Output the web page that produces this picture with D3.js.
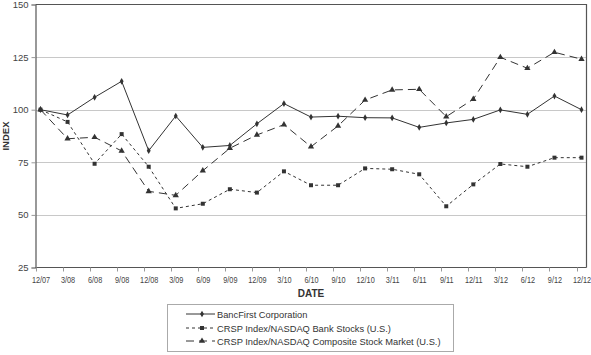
<!DOCTYPE html>
<html><head><meta charset="utf-8">
<script src="https://cdn.jsdelivr.net/npm/d3@7"></script>
<style>body{margin:0;background:#fff}svg{display:block;font-family:Arial,"Liberation Sans",sans-serif}</style>
</head><body><svg id="c" width="591" height="355"></svg>
<script>
const dates = ["12/07","3/08","6/08","9/08","12/08","3/09","6/09","9/09","12/09","3/10","6/10","9/10","12/10","3/11","6/11","9/11","12/11","3/12","6/12","9/12","12/12"];
const bancFirst = [100,97.5,105.9,113.5,80.5,97,82.1,83,93.3,102.9,96.5,96.9,96.2,96.1,91.6,93.7,95.4,99.9,97.8,106.5,100];
const bankStocks = [100,94.2,74.3,88.4,72.9,53.1,55.3,62.2,60.6,70.7,64.1,64.1,72.1,71.7,69.3,54.1,64.5,74.2,72.9,77.2,77.2];
const composite = [100,86.2,86.9,80.4,61.2,59.3,71.0,81.7,88.0,92.9,82.4,92.3,104.6,109.4,109.7,96.7,105,124.9,119.7,127.3,124];
const yTicks = [25,50,75,100,125,150];
const seriesNames = ["BancFirst Corporation","CRSP Index/NASDAQ Bank Stocks (U.S.)","CRSP Index/NASDAQ Composite Stock Market (U.S.)"];

const svg = d3.select("#c");
const L=35.5, R=586.5, T=4.5, B=267.5;
const x = d3.scalePoint().domain(dates).range([40.5,581.5]);
const y = d3.scaleLinear().domain([25,150]).range([B,T]);

// gridlines
svg.append("g").selectAll("line").data(yTicks.filter(d=>d>25&&d<150)).join("line")
  .attr("x1",L).attr("x2",R).attr("y1",d=>Math.round(y(d))+0.5).attr("y2",d=>Math.round(y(d))+0.5)
  .attr("stroke","#c8c8c8").attr("stroke-width",1);

// frame
svg.append("path").attr("d",`M${L},${T}H${R}V${B}`).attr("fill","none").attr("stroke","#555").attr("stroke-width",1.2);

// y axis
const ya = svg.append("g").attr("transform",`translate(${L},0)`)
  .call(d3.axisLeft(y).tickValues(yTicks).tickSize(4).tickPadding(3));
ya.select(".domain").attr("stroke","#555").attr("stroke-width",1.2);
ya.selectAll(".tick line").attr("stroke","#999");
ya.selectAll("text").attr("font-size",9.5).attr("fill","#444").attr("font-family","Arial,'Liberation Sans',sans-serif");

// x axis
const xa = svg.append("g").attr("transform",`translate(0,${B})`)
  .call(d3.axisBottom(x).tickSize(0).tickPadding(9));
xa.select(".domain").attr("d",`M${L},0H${R}`).attr("stroke","#555").attr("stroke-width",1.2);
xa.selectAll("text").attr("font-size",8.5).attr("fill","#444").attr("transform","scale(0.86,1)")
  .attr("font-family","Arial,'Liberation Sans',sans-serif");
// tick marks between categories
svg.append("g").selectAll("line").data(dates).join("line")
  .attr("x1",d=>Math.round(x(d)-5)+0.5).attr("x2",d=>Math.round(x(d)-5)+0.5)
  .attr("y1",B).attr("y2",B+4).attr("stroke","#999");

// axis titles
svg.append("text").attr("transform",`translate(8.5,136) rotate(-90)`).attr("text-anchor","middle")
  .attr("font-size",9.5).attr("font-weight","bold").attr("fill","#333").text("INDEX");
svg.append("text").attr("x",311).attr("y",297).attr("text-anchor","middle")
  .attr("font-size",10).attr("font-weight","bold").attr("fill","#333").text("DATE");

const col = "#333";
const styles = [
  {data:bancFirst, dash:null, marker:"diamond"},
  {data:bankStocks, dash:"3,3", marker:"square"},
  {data:composite, dash:"8,5", marker:"triangle"}
];
const sym = {diamond:d3.symbol().type(d3.symbolDiamond).size(13),
             square:d3.symbol().type(d3.symbolSquare).size(16),
             triangle:d3.symbol().type(d3.symbolTriangle).size(17)};
const line = d3.line().x((d,i)=>x(dates[i])).y(d=>y(d));
styles.forEach(s=>{
  svg.append("path").datum(s.data).attr("d",line).attr("fill","none")
    .attr("stroke",col).attr("stroke-width",1).attr("stroke-dasharray",s.dash);
  svg.append("g").selectAll("path").data(s.data).join("path")
    .attr("transform",(d,i)=>`translate(${x(dates[i])},${y(d)})`)
    .attr("d",sym[s.marker]).attr("fill",col);
});

// legend
const lg = svg.append("g");
lg.append("rect").attr("x",167.5).attr("y",304.5).attr("width",286).attr("height",47)
  .attr("fill","#fff").attr("stroke","#aaa");
const ly = [314,328,341];
styles.forEach((s,i)=>{
  lg.append("line").attr("x1",186).attr("x2",215).attr("y1",ly[i]).attr("y2",ly[i])
    .attr("stroke",col).attr("stroke-dasharray",s.dash);
  lg.append("path").attr("transform",`translate(202,${ly[i]})`).attr("d",sym[s.marker]).attr("fill",col);
  lg.append("text").attr("x",217).attr("y",ly[i]+3.5).attr("font-size",9.3).attr("fill","#333").text(seriesNames[i]);
});
</script></body></html>
